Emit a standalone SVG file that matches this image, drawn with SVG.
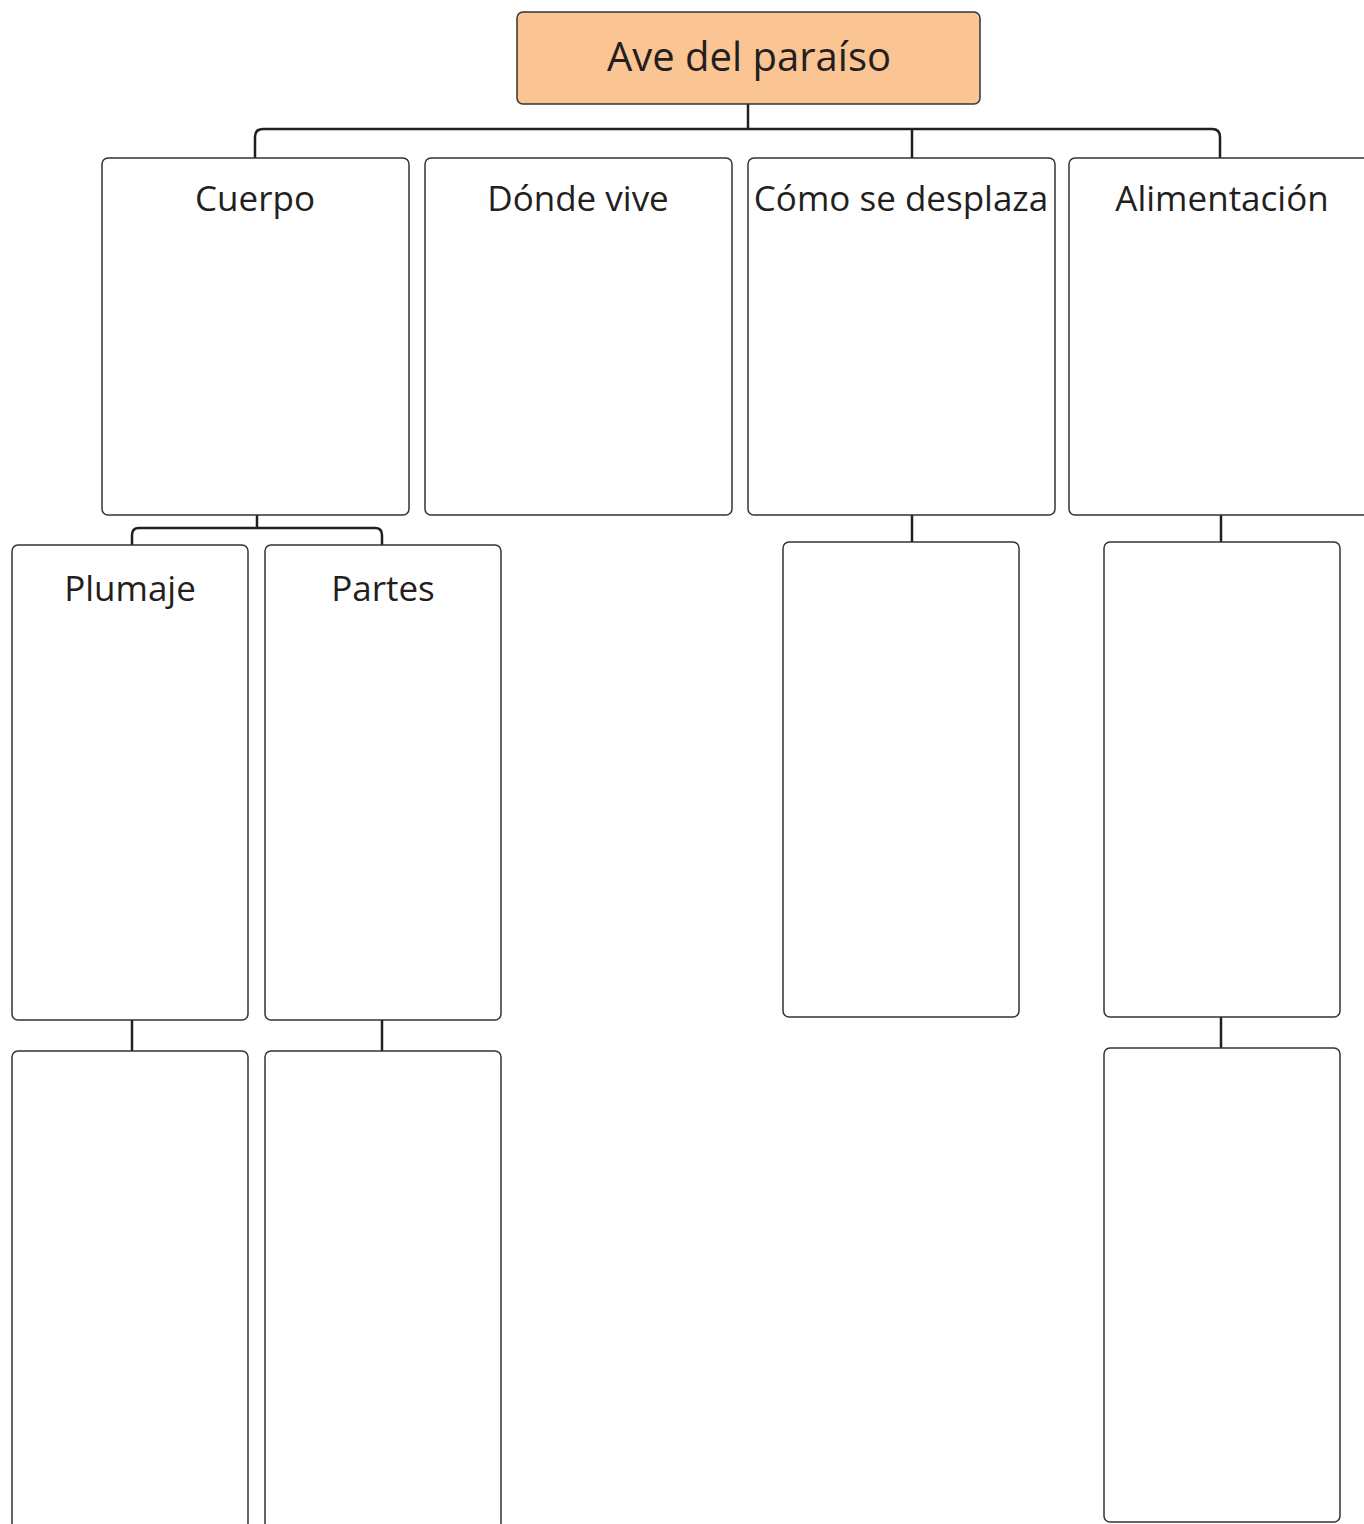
<svg xmlns="http://www.w3.org/2000/svg" width="1364" height="1524" viewBox="0 0 1364 1524">
<style>
.box{fill:#fff;stroke:#333;stroke-width:1.5}
.root{fill:#fbc493;stroke:#333;stroke-width:1.5}
.lbl{font-family:"Open Sans","Noto Sans",sans-serif;font-size:35px;fill:#231f20;text-anchor:middle}
.title{font-family:"Open Sans","Noto Sans",sans-serif;font-size:40px;fill:#231f20;text-anchor:middle}
.con{fill:none;stroke:#231f20;stroke-width:2.5}
</style>
<rect width="1364" height="1524" fill="#fff"/>
<g id="connectors">
<path class="con" d="M748 104V129"/>
<path class="con" d="M255 158V137Q255 129 263 129H1212Q1220 129 1220 137V158"/>
<path class="con" d="M912 129V158"/>
<path class="con" d="M257 515V528"/>
<path class="con" d="M132 545V535Q132 528 139 528H375Q382 528 382 535V545"/>
<path class="con" d="M132 1020V1051"/>
<path class="con" d="M382 1020V1051"/>
<path class="con" d="M912 515V542"/>
<path class="con" d="M1221 515V542"/>
<path class="con" d="M1221 1017V1048"/>
</g>
<g id="root"><rect class="root" x="517" y="12" width="463" height="92" rx="6"/><text class="title" x="749" y="71">Ave del paraíso</text></g>
<g id="cuerpo"><rect class="box" x="102" y="158" width="307" height="357" rx="6"/><text class="lbl" x="255" y="211">Cuerpo</text></g>
<g id="donde"><rect class="box" x="425" y="158" width="307" height="357" rx="6"/><text class="lbl" x="578" y="211">Dónde vive</text></g>
<g id="como"><rect class="box" x="748" y="158" width="307" height="357" rx="6"/><text class="lbl" x="901" y="211">Cómo se desplaza</text></g>
<g id="alimentacion"><rect class="box" x="1069" y="158" width="307" height="357" rx="6"/><text class="lbl" x="1222" y="211">Alimentación</text></g>
<g id="plumaje"><rect class="box" x="12" y="545" width="236" height="475" rx="6"/><text class="lbl" x="130" y="601">Plumaje</text></g>
<g id="partes"><rect class="box" x="265" y="545" width="236" height="475" rx="6"/><text class="lbl" x="383" y="601">Partes</text></g>
<g id="plumaje-det"><rect class="box" x="12" y="1051" width="236" height="478" rx="6"/></g>
<g id="partes-det"><rect class="box" x="265" y="1051" width="236" height="478" rx="6"/></g>
<g id="como-det"><rect class="box" x="783" y="542" width="236" height="475" rx="6"/></g>
<g id="alim-det1"><rect class="box" x="1104" y="542" width="236" height="475" rx="6"/></g>
<g id="alim-det2"><rect class="box" x="1104" y="1048" width="236" height="474" rx="6"/></g>
</svg>
